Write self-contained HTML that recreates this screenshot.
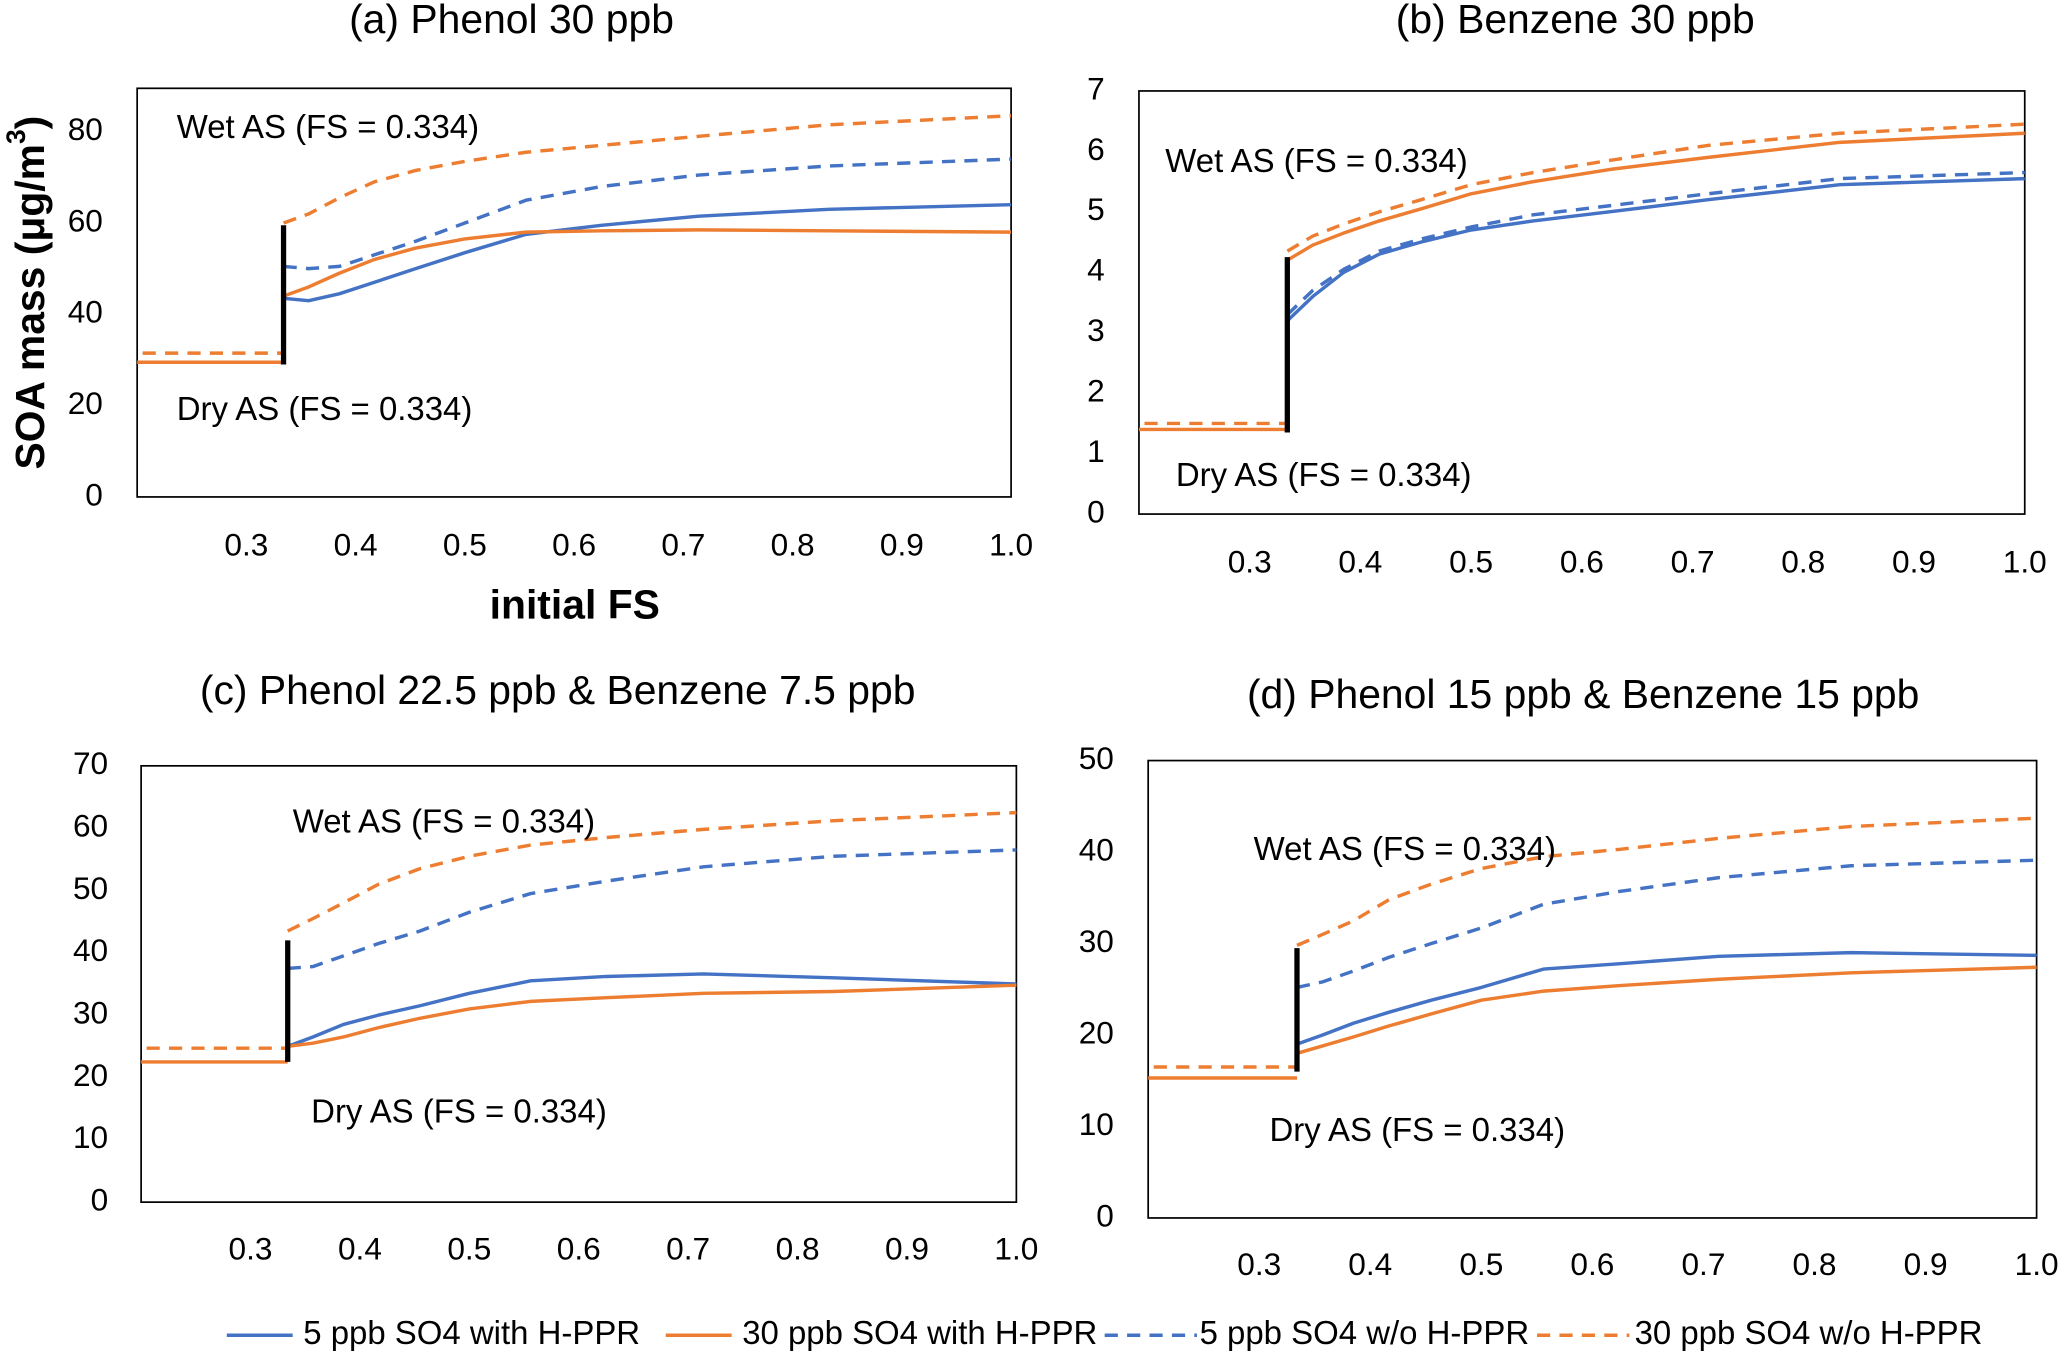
<!DOCTYPE html>
<html><head><meta charset="utf-8"><style>
html,body{margin:0;padding:0;background:#fff;}
svg{display:block;font-family:"Liberation Sans",sans-serif;}
</style></head><body>
<svg id="fig" width="2067" height="1359" viewBox="0 0 1568 1031" xmlns="http://www.w3.org/2000/svg"></svg>
<script>
const xPts = [0.334,0.357,0.385,0.417,0.455,0.5,0.556,0.625,0.714,0.833,1.0];
const xTicks = [0.3,0.4,0.5,0.6,0.7,0.8,0.9,1.0];
const xTickLabels = ["0.3","0.4","0.5","0.6","0.7","0.8","0.9","1.0"];
const seriesNames = ["5 ppb SO4 with H-PPR","30 ppb SO4 with H-PPR","5 ppb SO4 w/o H-PPR","30 ppb SO4 w/o H-PPR"];
// panel a
const aBlue = [43.5,43,44.5,47,50,53.5,57.5,59.5,61.5,63,64];
const aOrange = [44,46,49,52,54.5,56.5,58,58.3,58.5,58.3,58];
const aBlueD = [50.5,50,50.5,53,56,60,65,68,70.5,72.5,74];
const aOrangeD = [60,62,65.5,69,71.5,73.5,75.5,77,79,81.5,83.5];
const aDry = [29.5,31.5]; const aJump=[29,59.5]; const aYTicks=[0,20,40,60,80];
// panel b
const bBlue = [3.2,3.6,4.0,4.3,4.5,4.7,4.85,5.0,5.2,5.45,5.55];
const bOrange = [4.2,4.45,4.65,4.85,5.05,5.3,5.5,5.7,5.9,6.15,6.3];
const bBlueD = [3.3,3.7,4.05,4.35,4.55,4.75,4.95,5.1,5.3,5.55,5.65];
const bOrangeD = [4.35,4.6,4.8,5.0,5.2,5.45,5.65,5.85,6.1,6.3,6.45];
const bDry = [1.4,1.5]; const bJump=[1.35,4.25]; const bYTicks=[0,1,2,3,4,5,6,7];
// panel c
const cBlue = [25,26.5,28.5,30,31.5,33.5,35.5,36.2,36.6,36,35];
const cOrange = [25,25.5,26.5,28,29.5,31,32.2,32.8,33.5,33.8,34.8];
const cBlueD = [37.5,37.8,39.5,41.5,43.5,46.5,49.5,51.5,53.8,55.5,56.5];
const cOrangeD = [43.5,45.5,48,51,53.5,55.5,57.3,58.5,59.8,61.2,62.5];
const cDry = [22.5,24.7]; const cJump=[22.5,42]; const cYTicks=[0,10,20,30,40,50,60,70];
// panel d
const dBlue = [19,20,21.3,22.5,23.8,25.2,27.2,27.8,28.6,29,28.7];
const dOrange = [18,18.8,19.8,21,22.3,23.8,24.8,25.4,26.1,26.8,27.4];
const dBlueD = [25.2,25.8,27,28.5,30,31.7,34.3,35.7,37.2,38.5,39.1];
const dOrangeD = [29.8,31,32.5,34.8,36.5,38.2,39.5,40.3,41.5,42.8,43.7];
const dDry = [15.3,16.5]; const dJump=[16,29.5]; const dYTicks=[0,10,20,30,40,50];

const NS="http://www.w3.org/2000/svg";
const svg=document.getElementById('fig');
const BLUE="#4472C4", ORANGE="#ED7D31";
function mk(tag,attrs,parent){const e=document.createElementNS(NS,tag);for(const k in attrs)e.setAttribute(k,attrs[k]);(parent||svg).appendChild(e);return e;}
function txt(s,x,y,size,anchor,parent,weight){const t=mk('text',{x:x,y:y,'font-size':size,'text-anchor':anchor||'start','dominant-baseline':'middle','fill':'#000','font-weight':weight||'normal'},parent);t.textContent=s;return t;}

const panels=[
 {id:'a',title:'(a) Phenol 30 ppb',tx:388,ty:17,L:104,R:767,T:67,B:377,ymax:89.5,ylx:78,xly:415,yt:aYTicks,s:[aBlue,aOrange,aBlueD,aOrangeD],dry:aDry,jump:aJump,wet:[134,98],dryL:[134,312]},
 {id:'b',title:'(b) Benzene 30 ppb',tx:1195,ty:17,L:864,R:1536,T:69,B:390,ymax:7,ylx:838,xly:428,yt:bYTicks,s:[bBlue,bOrange,bBlueD,bOrangeD],dry:bDry,jump:bJump,wet:[884,124],dryL:[892,362]},
 {id:'c',title:'(c) Phenol 22.5 ppb & Benzene 7.5 ppb',tx:423,ty:526,L:107,R:771,T:581,B:912,ymax:70,ylx:82,xly:949,yt:cYTicks,s:[cBlue,cOrange,cBlueD,cOrangeD],dry:cDry,jump:cJump,wet:[222,625],dryL:[236,845]},
 {id:'d',title:'(d) Phenol 15 ppb & Benzene 15 ppb',tx:1201,ty:529,L:871,R:1545,T:577,B:924,ymax:50,ylx:845,xly:961,yt:dYTicks,s:[dBlue,dOrange,dBlueD,dOrangeD],dry:dDry,jump:dJump,wet:[951,646],dryL:[963,859]}
];
const styles=[[BLUE,null],[ORANGE,null],[BLUE,"10,7"],[ORANGE,"10,7"]];
const seriesKeys=['blue-solid','orange-solid','blue-dashed','orange-dashed'];

panels.forEach(p=>{
 const g=mk('g',{});
 
 
 const xs=v=>p.L+(v-0.2)/0.8*(p.R-p.L);
 const ys=v=>p.B-v/p.ymax*(p.B-p.T);
 const t=txt(p.title,p.tx,p.ty,31,'middle',g);
 
 
 const box=mk('rect',{x:p.L,y:p.T,width:p.R-p.L,height:p.B-p.T,fill:'none',stroke:'#000','stroke-width':1.3},g);
 
 
 p.yt.forEach(v=>{const e=txt(String(v),p.ylx,ys(v),24,'end',g);
  
  });
 xTicks.forEach((v,i)=>{const e=txt(xTickLabels[i],xs(v),p.xly,24,'middle',g);
  
  });
 const d1=mk('line',{x1:xs(0.2),x2:xs(0.334),y1:ys(p.dry[0]),y2:ys(p.dry[0]),stroke:ORANGE,'stroke-width':2.6},g);
 
 
 const d2=mk('line',{x1:xs(0.205),x2:xs(0.334),y1:ys(p.dry[1]),y2:ys(p.dry[1]),stroke:ORANGE,'stroke-width':2.6,'stroke-dasharray':'10,7'},g);
 
 
 p.s.forEach((arr,k)=>{
  const pts=arr.map((v,i)=>xs(xPts[i]).toFixed(1)+','+ys(v).toFixed(1)).join(' ');
  const a={points:pts,fill:'none',stroke:styles[k][0],'stroke-width':2.6,'stroke-linejoin':'round'};
  if(styles[k][1])a['stroke-dasharray']=styles[k][1];
  const pl=mk('polyline',a,g);
  
  
 });
 const j=mk('line',{x1:xs(0.334),x2:xs(0.334),y1:ys(p.jump[0]),y2:ys(p.jump[1]),stroke:'#000','stroke-width':4},g);
 
 
 const w=txt('Wet AS (FS = 0.334)',p.wet[0],p.wet[1],25,'start',g);
 
 
 const dr=txt('Dry AS (FS = 0.334)',p.dryL[0],p.dryL[1],25,'start',g);
 
 
});

const yt=mk('text',{x:0,y:0,'font-size':31,'font-weight':'bold','text-anchor':'middle','dominant-baseline':'middle',transform:'translate(25,222) rotate(-90)'});
yt.innerHTML='SOA mass (μg/m<tspan baseline-shift="super" font-size="20">3</tspan>)';


const xt=txt('initial FS',436,461,31,'middle',null,'bold');



const legX=[[172,222,230],[505,555,563],[838,908,910],[1166,1236,1240]];
legX.forEach((l,k)=>{
 const a={x1:l[0],x2:l[1],y1:1013,y2:1013,stroke:styles[k][0],'stroke-width':2.6};
 if(styles[k][1])a['stroke-dasharray']=styles[k][1];
 const ln=mk('line',a);
 
 
 const t=txt(seriesNames[k],l[2],1013,25,'start');
 
 
});
</script>
</body></html>
